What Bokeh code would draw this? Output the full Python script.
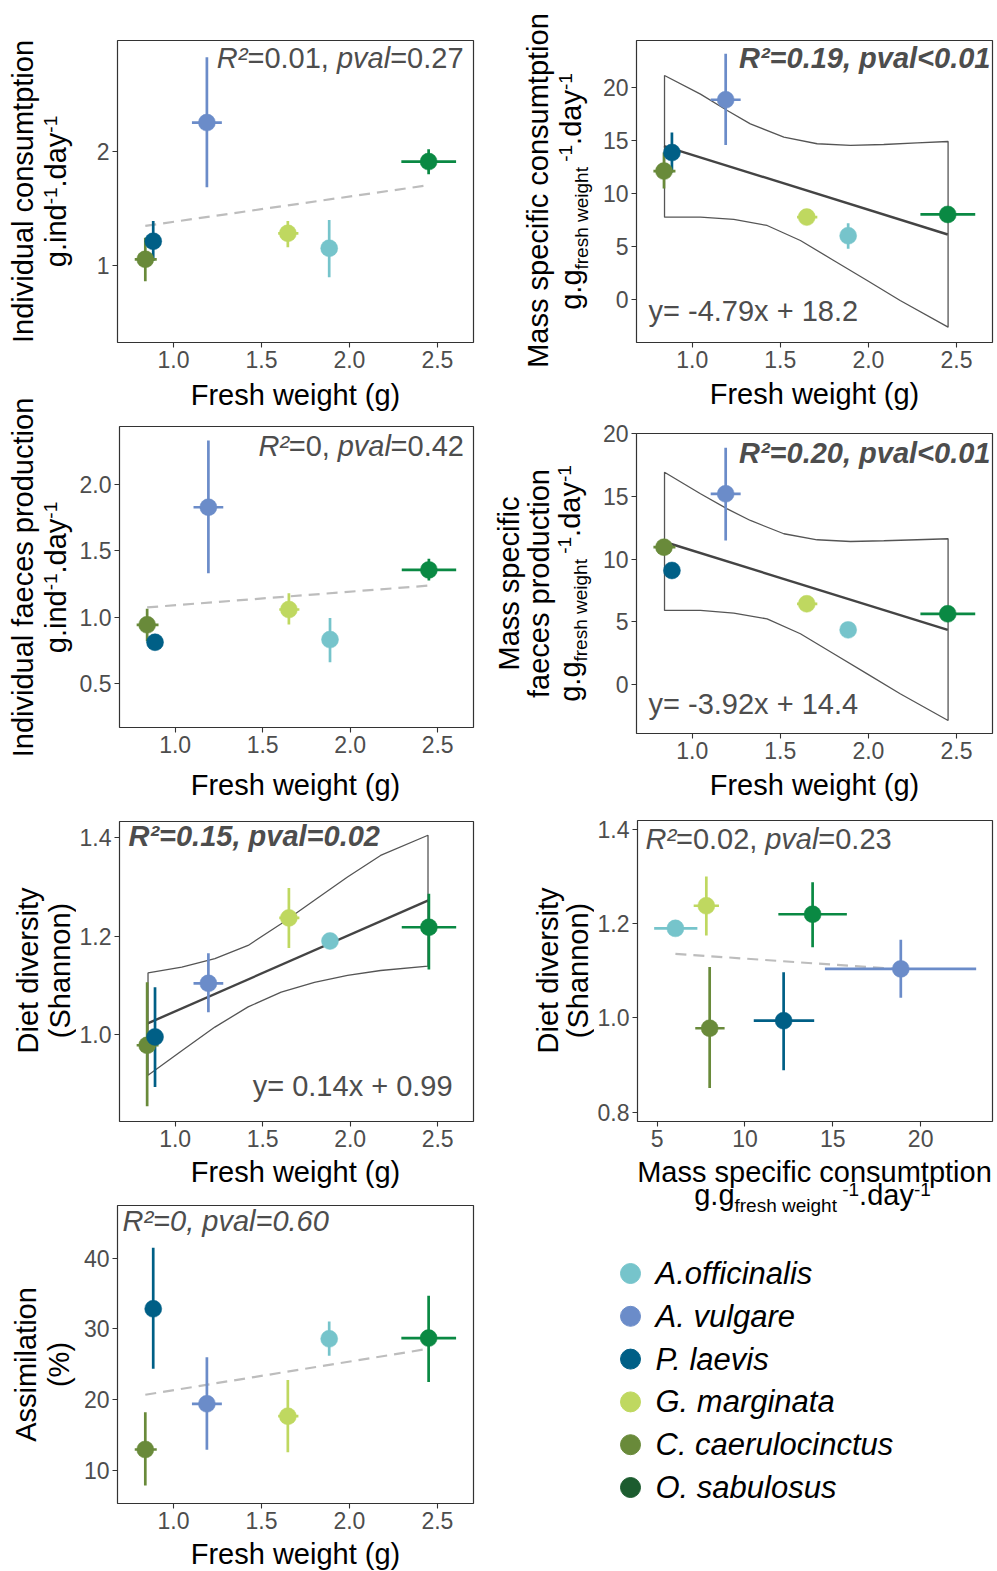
import math
from bokeh.plotting import figure
from bokeh.models import Range1d, FixedTicker, NumeralTickFormatter, Label, ColumnDataSource
from bokeh.layouts import row, column
from bokeh.embed import file_html
from bokeh.resources import INLINE
from bokeh.core.properties import value

FONT = "Liberation Sans"

# ---------------- data ----------------
species = ["A.officinalis", "A. vulgare", "P. laevis", "G. marginata",
           "C. caerulocinctus", "O. sabulosus"]
point_colors = ["#76c4cb", "#6b8cc9", "#005f86", "#bfd860", "#698a3a", "#0a8943"]
legend_colors = ["#76c4cb", "#6b8cc9", "#005f86", "#bfd860", "#698a3a", "#1c5c2f"]

fresh_weight = [1.885, 1.19, 0.885, 1.65, 0.84, 2.45]
fresh_weight_lo = [1.875, 1.105, 0.875, 1.595, 0.78, 2.295]
fresh_weight_hi = [1.895, 1.275, 0.895, 1.71, 0.905, 2.606]

ind_cons = [1.152, 2.254, 1.213, 1.283, 1.055, 1.912]
ind_cons_lo = [0.897, 1.687, 1.04, 1.16, 0.862, 1.80]
ind_cons_hi = [1.40, 2.827, 1.39, 1.39, 1.243, 2.02]

ms_cons = [6.04, 18.87, 13.89, 7.8, 12.14, 8.05]
ms_cons_lo = [4.81, 14.6, 12.0, 7.55, 10.5, 7.75]
ms_cons_hi = [7.23, 23.2, 15.77, 8.05, 13.9, 8.35]

ind_faeces = [0.832, 1.827, 0.812, 1.058, 0.943, 1.356]
ind_faeces_lo = [0.662, 1.331, 0.80, 0.945, 0.82, 1.276]
ind_faeces_hi = [0.995, 2.329, 0.825, 1.18, 1.063, 1.439]

ms_faeces = [4.36, 15.22, 9.1, 6.44, 10.96, 5.64]
ms_faeces_lo = [4.25, 11.49, 9.0, 6.3, 10.75, 5.5]
ms_faeces_hi = [4.47, 18.89, 9.2, 6.6, 11.2, 5.8]

diversity = [1.19, 1.104, 0.995, 1.237, 0.978, 1.218]
diversity_lo = [1.186, 1.045, 0.893, 1.176, 0.854, 1.132]
diversity_hi = [1.194, 1.165, 1.096, 1.298, 1.106, 1.286]

div_cons_x = [6.04, 18.87, 12.2, 7.8, 7.99, 13.85]
div_cons_x_lo = [4.83, 14.55, 10.5, 7.08, 7.17, 11.9]
div_cons_x_hi = [7.29, 23.16, 13.94, 8.52, 8.84, 15.8]
div_cons_y = [1.19, 1.104, 0.994, 1.238, 0.978, 1.22]
div_cons_y_lo = [1.187, 1.0425, 0.889, 1.175, 0.851, 1.15]
div_cons_y_hi = [1.193, 1.166, 1.097, 1.30, 1.108, 1.288]

assim = [28.6, 19.42, 32.84, 17.67, 12.97, 28.7]
assim_lo = [26.2, 12.92, 24.36, 12.59, 7.88, 22.5]
assim_hi = [31.05, 26.0, 41.45, 22.8, 18.23, 34.7]

# fitted lines
fit_fw_x = [0.84, 2.45]
fit_ind_cons = [1.348, 1.705]
fit_ms_cons = [14.5, 6.16]
fit_ind_faeces = [1.074, 1.238]
fit_ms_faeces = [11.39, 4.36]
fit_diversity = [1.022, 1.273]
fit_div_cons_x = [6.04, 18.87]
fit_div_cons_y = [1.136, 1.103]
fit_assim = [20.7, 27.2]

# confidence bands
band_up_x = [0.843, 1.047, 1.199, 1.33, 1.52, 1.709, 1.898, 2.087, 2.276, 2.452]
band_lo_x = [0.843, 1.047, 1.236, 1.425, 1.614, 1.803, 1.993, 2.18, 2.452]
ms_cons_band_up = [21.16, 19.4, 17.86, 16.6, 15.34, 14.72, 14.56, 14.65, 14.81, 14.93]
ms_cons_band_lo = [7.79, 7.79, 7.58, 7.01, 5.59, 3.71, 1.82, -0.07, -2.58]
ms_faeces_band_up = [16.94, 15.22, 14.02, 13.09, 12.03, 11.55, 11.41, 11.47, 11.55, 11.63]
ms_faeces_band_lo = [5.91, 5.91, 5.69, 5.24, 4.05, 2.45, 0.85, -0.74, -2.87]
div_band_x = [0.845, 1.038, 1.227, 1.417, 1.606, 1.796, 1.985, 2.174, 2.445]
div_band_up = [1.125, 1.137, 1.154, 1.181, 1.225, 1.273, 1.32, 1.364, 1.405]
div_band_lo = [0.917, 0.967, 1.015, 1.056, 1.086, 1.106, 1.12, 1.13, 1.139]

fw_ticks = [1.0, 1.5, 2.0, 2.5]

# ---------------- helpers ----------------
CW = {' ': 278, '(': 333, ')': 333, ',': 278, '-': 333, '.': 278, '<': 584, '=': 584,
      '+': 584, '%': 889, '²': 333,
      'A': 667, 'C': 722, 'D': 722, 'F': 611, 'G': 778, 'I': 278, 'M': 833, 'O': 778,
      'P': 667, 'R': 722, 'S': 667,
      'a': 556, 'b': 556, 'c': 500, 'd': 556, 'e': 556, 'f': 278, 'g': 556, 'h': 556,
      'i': 222, 'l': 222, 'm': 833, 'n': 556, 'o': 556, 'p': 556, 'r': 333, 's': 500,
      't': 278, 'u': 556, 'v': 500, 'w': 722, 'x': 500, 'y': 500}

BASE_K = 0.34   # bokeh puts the alphabetic baseline this far (em) below the anchor


def tw(t, size):
    return sum(CW.get(c, 556) for c in t) / 1000.0 * size


class Base:
    def label(self, t, size, style, X, Y, rotated, align, color):
        if rotated:
            X -= BASE_K * size
        else:
            Y -= BASE_K * size
        self.fig.add_layout(Label(x=self.dx(X), y=self.dy(Y), text=t,
                                  angle=math.pi / 2 if rotated else 0.0,
                                  text_font=FONT, text_font_size=f"{size}px",
                                  text_font_style=style, text_color=color,
                                  text_align=align, text_baseline="alphabetic"))

    def text(self, segs, px, py, rotated=False, align="left", color="#000000"):
        if len(segs) == 1:
            t, s, st, sh = segs[0]
            X, Y = (px + sh, py) if rotated else (px, py + sh)
            self.label(t, s, st, X, Y, rotated, align, color)
            return
        total = sum(tw(t, s) for t, s, st, sh in segs)
        a = {"left": 0.0, "center": -total / 2, "right": -total}[align]
        for t, s, st, sh in segs:
            if t.strip():
                X, Y = (px + sh, py - a) if rotated else (px + a, py + sh)
                self.label(t.rstrip(), s, st, X, Y, rotated, "left", color)
            a += tw(t, s)


class TextFig(Base):
    """A blank canvas (no axes) for titles that sit outside a plot frame."""
    def __init__(self, origin, size):
        self.ox, self.oy = origin
        w, h = size
        p = figure(width=w, height=h, x_range=Range1d(0, w), y_range=Range1d(h, 0),
                   output_backend="svg", toolbar_location=None,
                   x_axis_location=None, y_axis_location=None, min_border=0)
        p.outline_line_color = None
        p.background_fill_color = "white"
        p.border_fill_color = "white"
        p.grid.visible = False
        self.fig = p

    def dx(self, px):
        return px - self.ox

    def dy(self, py):
        return py - self.oy


class Panel(Base):
    def __init__(self, origin, size, frame, xr, yr, xticks, xfmt, yticks, yfmt):
        ox, oy = origin
        W, H = size
        fl, ft, fw, fh = frame
        self.fl, self.ft, self.fw, self.fh = frame
        self.xr, self.yr = xr, yr
        p = figure(width=W, height=H, x_range=Range1d(*xr), y_range=Range1d(*yr),
                   output_backend="svg", toolbar_location=None,
                   min_border_left=fl - ox, min_border_top=ft - oy,
                   min_border_right=ox + W - (fl + fw),
                   min_border_bottom=oy + H - (ft + fh))
        p.background_fill_color = "white"
        p.border_fill_color = "white"
        p.outline_line_color = "#333333"
        p.outline_line_width = 1.2
        p.grid.visible = False
        p.xaxis.ticker = FixedTicker(ticks=xticks)
        p.yaxis.ticker = FixedTicker(ticks=yticks)
        p.xaxis.formatter = NumeralTickFormatter(format=xfmt)
        p.yaxis.formatter = NumeralTickFormatter(format=yfmt)
        for ax in (p.xaxis, p.yaxis):
            ax.axis_line_color = None
            ax.major_tick_line_color = "#333333"
            ax.major_tick_line_width = 1.1
            ax.major_tick_out = 5
            ax.major_tick_in = 0
            ax.minor_tick_line_color = None
            ax.major_label_text_font = FONT
            ax.major_label_text_font_size = "23px"
            ax.major_label_text_color = "#4d4d4d"
            ax.major_label_standoff = 3
        self.fig = p

    def dx(self, px):
        return self.xr[0] + (px - self.fl) / self.fw * (self.xr[1] - self.xr[0])

    def dy(self, py):
        return self.yr[1] - (py - self.ft) / self.fh * (self.yr[1] - self.yr[0])

    def points(self, x, xlo, xhi, y, ylo, yhi, order):
        src = ColumnDataSource(dict(
            x=[x[i] for i in order], xlo=[xlo[i] for i in order], xhi=[xhi[i] for i in order],
            y=[y[i] for i in order], ylo=[ylo[i] for i in order], yhi=[yhi[i] for i in order],
            c=[point_colors[i] for i in order]))
        self.fig.segment(x0="x", y0="ylo", x1="x", y1="yhi", line_color="c",
                         line_width=2.7, source=src)
        self.fig.segment(x0="xlo", y0="y", x1="xhi", y1="y", line_color="c",
                         line_width=2.7, source=src)
        self.fig.scatter(x="x", y="y", size=17, fill_color="c", line_color="c",
                         line_width=0.5, source=src)

    def band(self, ux, uy, lx, ly):
        xs = list(ux) + list(lx)[::-1]
        ys = list(uy) + list(ly)[::-1]
        self.fig.patch(xs, ys, fill_color=None, line_color="#555555", line_width=1.3)

    def fit(self, x, y):
        self.fig.line(x, y, line_color="#444444", line_width=2.4)

    def dashed(self, x, y):
        self.fig.line(x, y, line_color="#bdbdbd", line_width=2.2, line_dash="11 7")


GREY = "#4d4d4d"
TS = 29   # title size
AS = 29   # annotation size
SS = 19   # sub/superscript size


def stat_mixed(r2, pv):
    return [("R²", AS, "italic", 0), ("=" + r2 + ", ", AS, "normal", 0),
            ("pval", AS, "italic", 0), ("=" + pv, AS, "normal", 0)]


def ind_unit():
    return [("g.ind", TS, "normal", 0), ("-1", SS, "normal", -9), (".day", TS, "normal", 0),
            ("-1", SS, "normal", -9)]


def ms_unit():
    return [("g.g", TS, "normal", 0), ("fresh weight ", SS, "normal", 7),
            ("-1", SS, "normal", -9), (".day", TS, "normal", 0), ("-1", SS, "normal", -9)]


FW_TITLE = [("Fresh weight (g)", TS, "normal", 0)]
ORDER = [0, 1, 4, 2, 3, 5]

SL = 76          # width of the left title strip
PW = 490 - SL    # width of the left plot column

# ================= left half =================
yt1 = TextFig((0, 0), (SL, 384))
yt3 = TextFig((0, 384), (SL, 386))
yt5 = TextFig((0, 770), (SL, 400))
yt7 = TextFig((0, 1170), (SL, 400))

# panel 1
p1 = Panel((SL, 0), (PW, 377), (117, 40, 356, 302), (0.682, 2.705), (0.325, 2.974),
           fw_ticks, "0.0", [1, 2], "0")
xt1 = TextFig((SL, 377), (PW, 35))
p1.dashed(fit_fw_x, fit_ind_cons)
p1.points(fresh_weight, fresh_weight_lo, fresh_weight_hi, ind_cons, ind_cons_lo, ind_cons_hi, ORDER)
p1.text(stat_mixed("0.01", "0.27"), 463, 67, align="right", color=GREY)
xt1.text(FW_TITLE, 295, 404, align="center")
yt1.text([("Individual consumtption", TS, "normal", 0)], 32, 191, rotated=True, align="center")
yt1.text(ind_unit(), 65, 191, rotated=True, align="center")

# panel 3
p3 = Panel((SL, 412), (PW, 350), (117, 426, 356, 301), (0.682, 2.705), (0.171, 2.434),
           fw_ticks, "0.0", [0.5, 1.0, 1.5, 2.0], "0.0")
xt3 = TextFig((SL, 762), (PW, 41))
p3.dashed(fit_fw_x, fit_ind_faeces)
p3.points(fresh_weight, fresh_weight_lo, fresh_weight_hi, ind_faeces, ind_faeces_lo,
          ind_faeces_hi, [0, 1, 2, 4, 3, 5])
p3.text(stat_mixed("0", "0.42"), 463, 455, align="right", color=GREY)
xt3.text(FW_TITLE, 295, 794, align="center")
yt3.text([("Individual faeces production", TS, "normal", 0)], 32, 577, rotated=True,
         align="center")
yt3.text(ind_unit(), 65, 577, rotated=True, align="center")

# panel 5
p5 = Panel((SL, 803), (PW, 352), (117, 821, 356, 300), (0.682, 2.705), (0.823, 1.433),
           fw_ticks, "0.0", [1.0, 1.2, 1.4], "0.0")
xt5 = TextFig((SL, 1155), (PW, 35))
p5.band(div_band_x, div_band_up, div_band_x, div_band_lo)
p5.fit(fit_fw_x, fit_diversity)
p5.points(fresh_weight, fresh_weight_lo, fresh_weight_hi, diversity, diversity_lo,
          diversity_hi, ORDER)
p5.text([("R²=0.15, pval=0.02", AS, "bold italic", 0)], 126, 845, color=GREY)
p5.text([("y= 0.14x + 0.99", AS, "normal", 0)], 452, 1095, align="right", color=GREY)
xt5.text(FW_TITLE, 295, 1181, align="center")
yt5.text([("Diet diversity", TS, "normal", 0)], 37, 970, rotated=True, align="center")
yt5.text([("(Shannon)", TS, "normal", 0)], 69, 970, rotated=True, align="center")

# panel 7
p7 = Panel((SL, 1190), (PW, 347), (117, 1205, 356, 298), (0.682, 2.705), (5.34, 47.43),
           fw_ticks, "0.0", [10, 20, 30, 40], "0")
xt7 = TextFig((SL, 1537), (PW, 33))
p7.dashed(fit_fw_x, fit_assim)
p7.points(fresh_weight, fresh_weight_lo, fresh_weight_hi, assim, assim_lo, assim_hi, ORDER)
p7.text([("R²=0, pval=0.60", AS, "italic", 0)], 122, 1230, color=GREY)
xt7.text(FW_TITLE, 295, 1563.5, align="center")
yt7.text([("Assimilation", TS, "normal", 0)], 35, 1364, rotated=True, align="center")
yt7.text([("(%)", TS, "normal", 0)], 68, 1364, rotated=True, align="center")

# ================= right half =================
yt2 = TextFig((490, 0), (104, 384))
yt4 = TextFig((490, 384), (104, 396))
yt6 = TextFig((490, 780), (104, 790))

# panel 2
p2 = Panel((594, 0), (402, 377), (636, 40, 356, 302), (0.684, 2.704), (-4.03, 24.46),
           fw_ticks, "0.0", [0, 5, 10, 15, 20], "0")
xt2 = TextFig((594, 377), (402, 35))
p2.band(band_up_x, ms_cons_band_up, band_lo_x, ms_cons_band_lo)
p2.fit(fit_fw_x, fit_ms_cons)
p2.points(fresh_weight, fresh_weight_lo, fresh_weight_hi, ms_cons, ms_cons_lo, ms_cons_hi, ORDER)
p2.text([("R²=0.19, pval<0.01", AS, "bold italic", 0)], 990, 67, align="right", color=GREY)
p2.text([("y= -4.79x + 18.2", AS, "normal", 0)], 648, 320, color=GREY)
xt2.text(FW_TITLE, 814, 403, align="center")
yt2.text([("Mass specific consumtption", TS, "normal", 0)], 547, 190, rotated=True,
         align="center")
yt2.text(ms_unit(), 580, 191, rotated=True, align="center")

# panel 4
p4 = Panel((594, 412), (402, 355), (636, 433, 356, 300), (0.684, 2.704), (-3.91, 20.03),
           fw_ticks, "0.0", [0, 5, 10, 15, 20], "0")
xt4 = TextFig((594, 767), (402, 36))
p4.band(band_up_x, ms_faeces_band_up, band_lo_x, ms_faeces_band_lo)
p4.fit(fit_fw_x, fit_ms_faeces)
p4.points(fresh_weight, fresh_weight_lo, fresh_weight_hi, ms_faeces, ms_faeces_lo,
          ms_faeces_hi, ORDER)
p4.text([("R²=0.20, pval<0.01", AS, "bold italic", 0)], 990, 462, align="right", color=GREY)
p4.text([("y= -3.92x + 14.4", AS, "normal", 0)], 648, 713, color=GREY)
xt4.text(FW_TITLE, 814, 794, align="center")
yt4.text([("Mass specific", TS, "normal", 0)], 518, 583, rotated=True, align="center")
yt4.text([("faeces production", TS, "normal", 0)], 548, 583, rotated=True, align="center")
yt4.text(ms_unit(), 579, 583, rotated=True, align="center")

# panel 6
p6 = Panel((594, 803), (402, 352), (636, 820, 356, 301), (3.882, 24.09), (0.780, 1.419),
           [5, 10, 15, 20], "0", [0.8, 1.0, 1.2, 1.4], "0.0")
xt6 = TextFig((594, 1155), (402, 63))
p6.dashed(fit_div_cons_x, fit_div_cons_y)
p6.points(div_cons_x, div_cons_x_lo, div_cons_x_hi, div_cons_y, div_cons_y_lo,
          div_cons_y_hi, ORDER)
p6.text(stat_mixed("0.02", "0.23"), 644, 848, color=GREY)
xt6.text([("Mass specific consumtption", TS, "normal", 0)], 814, 1181, align="center")
xt6.text(ms_unit(), 812, 1204, align="center")
yt6.text([("Diet diversity", TS, "normal", 0)], 557, 970, rotated=True, align="center")
yt6.text([("(Shannon)", TS, "normal", 0)], 587, 970, rotated=True, align="center")

# legend
leg = figure(width=402, height=352, x_range=Range1d(0, 402), y_range=Range1d(6.939, -1.285),
             output_backend="svg", toolbar_location=None,
             x_axis_location=None, y_axis_location=None, min_border=0)
leg.outline_line_color = None
leg.background_fill_color = "white"
leg.border_fill_color = "white"
leg.grid.visible = False
lsrc = ColumnDataSource(dict(idx=list(range(len(species))), name=species, c=legend_colors,
                             mx=[36] * len(species), tx=[61] * len(species)))
leg.scatter(x="mx", y="idx", size=20, fill_color="c", line_color="c", source=lsrc)
leg.text(x="tx", y="idx", text="name", source=lsrc, text_font=value(FONT),
         text_font_style=value("italic"), text_font_size=value("31px"),
         text_color="#000000", text_baseline="middle", text_align="left")


def stack(*figs):
    # each figure wrapped in its own column so bokeh does not align their borders
    return column(*[column(f) for f in figs])


left = row(stack(yt1.fig, yt3.fig, yt5.fig, yt7.fig),
           stack(p1.fig, xt1.fig, p3.fig, xt3.fig, p5.fig, xt5.fig, p7.fig, xt7.fig))
right = row(stack(yt2.fig, yt4.fig, yt6.fig),
            stack(p2.fig, xt2.fig, p4.fig, xt4.fig, p6.fig, xt6.fig, leg))
layout = row(left, right)

open("out.html", "w").write(file_html(layout, INLINE))
